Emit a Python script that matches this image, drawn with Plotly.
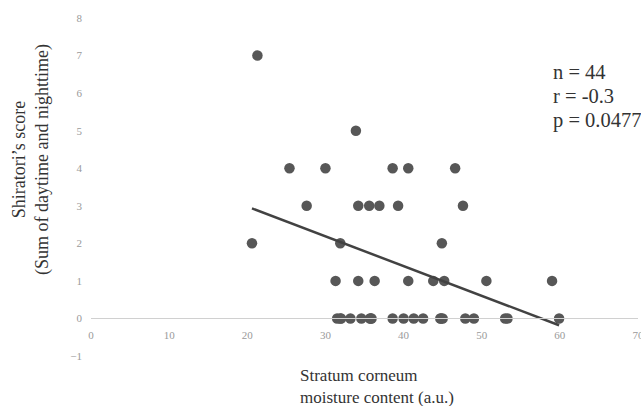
import numpy as np
import plotly.graph_objects as go

# Stratum corneum moisture content (a.u.) and Shiratori's score
moisture = [
    21.3,
    20.6, 31.9, 44.9,
    25.4, 30.0, 38.6, 40.6, 46.6,
    33.9,
    27.6, 34.2, 35.6, 36.9, 39.3, 47.6,
    31.3, 34.2, 36.3, 40.6, 43.8, 45.2, 50.6, 59.0,
    31.5, 31.9, 32.0, 33.2, 34.6, 35.7, 35.8, 35.9, 38.6, 40.0, 41.3, 42.5,
    44.7, 44.8, 45.0, 47.9, 49.0, 53.0, 53.3, 59.9,
]
score = [
    7,
    2, 2, 2,
    4, 4, 4, 4, 4,
    5,
    3, 3, 3, 3, 3, 3,
    1, 1, 1, 1, 1, 1, 1, 1,
    0, 0, 0, 0, 0, 0, 0, 0, 0, 0, 0, 0,
    0, 0, 0, 0, 0, 0, 0, 0,
]
x_ticks = [0, 10, 20, 30, 40, 50, 60, 70]
y_ticks = [-1, 0, 1, 2, 3, 4, 5, 6, 7, 8]
stats_lines = ["n = 44", "r = -0.3", "p = 0.0477"]

x = np.array(moisture)
y = np.array(score)
slope, intercept = np.polyfit(x, y, 1)
line_x = np.array([x.min(), x.max()])
line_y = slope * line_x + intercept

serif = "Liberation Serif"

fig = go.Figure()
fig.add_trace(go.Scatter(
    x=moisture, y=score, mode="markers",
    marker=dict(size=10.5, color="#575757"),
    showlegend=False, hoverinfo="skip",
))
fig.add_trace(go.Scatter(
    x=line_x, y=line_y, mode="lines",
    line=dict(color="#424242", width=2.5),
    showlegend=False, hoverinfo="skip",
))

W, H = 641, 406
L, R, T, B = 91, 3, 18, 50
pw, ph = W - L - R, H - T - B


def px(xp):
    return (xp - L) / pw


def py(yp):
    return (H - B - yp) / ph


annotations = [
    dict(text="Shiratori’s score<br>(Sum of daytime and nighttime)",
         xref="paper", yref="paper", x=px(31), y=py(160),
         xanchor="center", yanchor="middle", textangle=-90,
         showarrow=False, font=dict(family=serif, size=18, color="#333333")),
    dict(text="Stratum corneum<br>moisture content (a.u.)",
         xref="paper", yref="paper", x=px(298), y=py(386),
         xanchor="left", yanchor="middle", align="left",
         showarrow=False, font=dict(family=serif, size=17, color="#333333")),
]
for i, line in enumerate(stats_lines):
    annotations.append(dict(
        text=line, xref="paper", yref="paper", x=px(551), y=py(72 + 24 * i),
        xanchor="left", yanchor="middle", align="left", showarrow=False,
        font=dict(family=serif, size=20.5, color="#333333")))

fig.update_layout(
    width=W, height=H,
    margin=dict(l=L, r=R, t=T, b=B, autoexpand=False),
    paper_bgcolor="white", plot_bgcolor="white",
    font=dict(family=serif, color="#333333"),
    xaxis=dict(
        range=[0, 70], tickvals=x_ticks, showgrid=False, zeroline=False,
        anchor="free", position=1 / 9, automargin=False,
        showline=True, linecolor="#d0d0d0", linewidth=1,
        ticks="", ticklabelstandoff=6, ticklabeloverflow="allow",
        tickfont=dict(family=serif, size=11, color="#9a9a9a"),
    ),
    yaxis=dict(
        range=[-1, 8], tickvals=y_ticks, showgrid=False, zeroline=False,
        showline=False, ticks="", ticklabelstandoff=8, automargin=False,
        tickfont=dict(family=serif, size=11, color="#9a9a9a"),
    ),
    annotations=annotations,
)

fig.write_html("out.html", config={"displayModeBar": False},
               post_script="document.body.style.margin='0';")
